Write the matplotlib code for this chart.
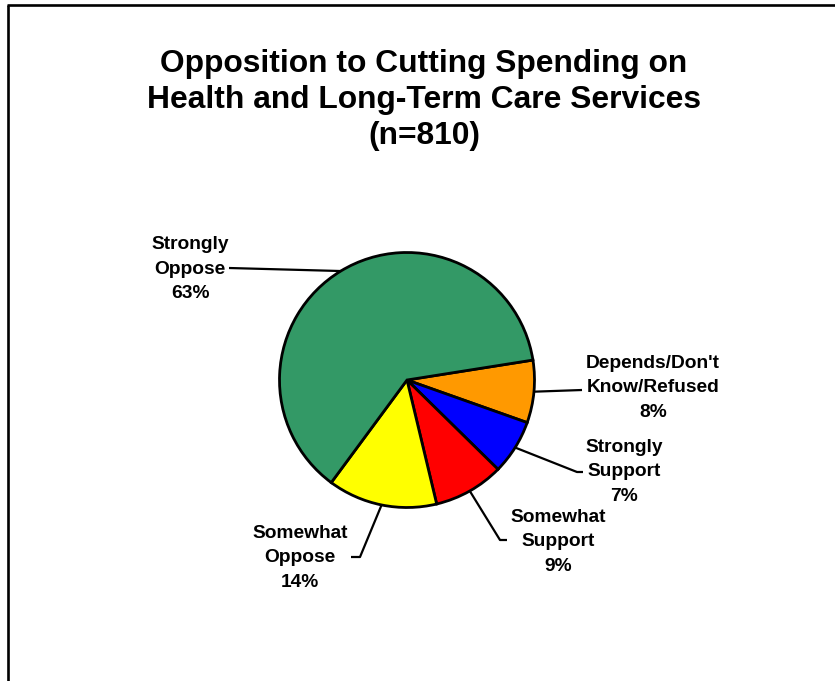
import numpy as np
import matplotlib
matplotlib.use("Agg")
import matplotlib.pyplot as plt

# Survey responses (percent of respondents, n=810)
categories = ["Depends/Don't\nKnow/Refused", "Strongly\nSupport", "Somewhat\nSupport",
              "Somewhat\nOppose", "Strongly\nOppose"]
values = [8, 7, 9, 14, 63]
colors = ["#FF9900", "#0000FF", "#FF0000", "#FFFF00", "#339966"]

title = "Opposition to Cutting Spending on\nHealth and Long-Term Care Services\n(n=810)"

W, H = 835, 681
fig = plt.figure(figsize=(W / 100, H / 100), dpi=100)
ax = fig.add_axes([0, 0, 1, 1])
ax.set_xlim(0, W)
ax.set_ylim(0, H)
ax.set_aspect("equal")
ax.axis("off")

FONT = "Liberation Sans"

def py(y):
    """Convert a top-down pixel row to axes y."""
    return H - y

# Outer frame (left and top edges visible)
ax.plot([7.5, 7.5], [py(4.5), -5], color="black", lw=1.9, solid_capstyle="butt")
ax.plot([6.5, W + 5], [py(4.5), py(4.5)], color="black", lw=1.9, solid_capstyle="butt")

# Title
ax.text(424, py(100), title, ha="center", va="center", fontsize=22.9,
        fontweight="bold", family=FONT, linespacing=1.27)

# Pie
cx, cy, r = 407, py(380), 127.5
wedges, _ = ax.pie(values, colors=colors, startangle=9, counterclock=False,
                   center=(cx, cy), radius=r, frame=True,
                   wedgeprops=dict(edgecolor="black", linewidth=2.0))
ax.set_xlim(0, W)
ax.set_ylim(0, H)
ax.axis("off")

# Leader-line routing and label placement (pixel coords, top-down)
layout = [
    # (elbow points after the wedge edge, text centre)
    ([(582, 390)], (653, 388)),
    ([(577, 472), (583, 472)], (624, 472)),
    ([(500, 540), (507, 540)], (558, 542)),
    ([(360, 557), (351, 557)], (300, 558)),
    ([(229, 268)], (190, 269)),
]

for w, lab, v, (pts, (tx, ty)) in zip(wedges, categories, values, layout):
    mid = np.deg2rad((w.theta1 + w.theta2) / 2)
    sx, sy = cx + r * np.cos(mid), cy + r * np.sin(mid)
    xs = [sx] + [p[0] for p in pts]
    ys = [sy] + [py(p[1]) for p in pts]
    ax.plot(xs, ys, color="black", lw=1.6, solid_capstyle="butt", zorder=3)
    ax.text(tx, py(ty), f"{lab}\n{v}%", ha="center", va="center", fontsize=13.8,
            fontweight="bold", family=FONT, linespacing=1.58)

fig.savefig("out.png", dpi=100, facecolor="white")
